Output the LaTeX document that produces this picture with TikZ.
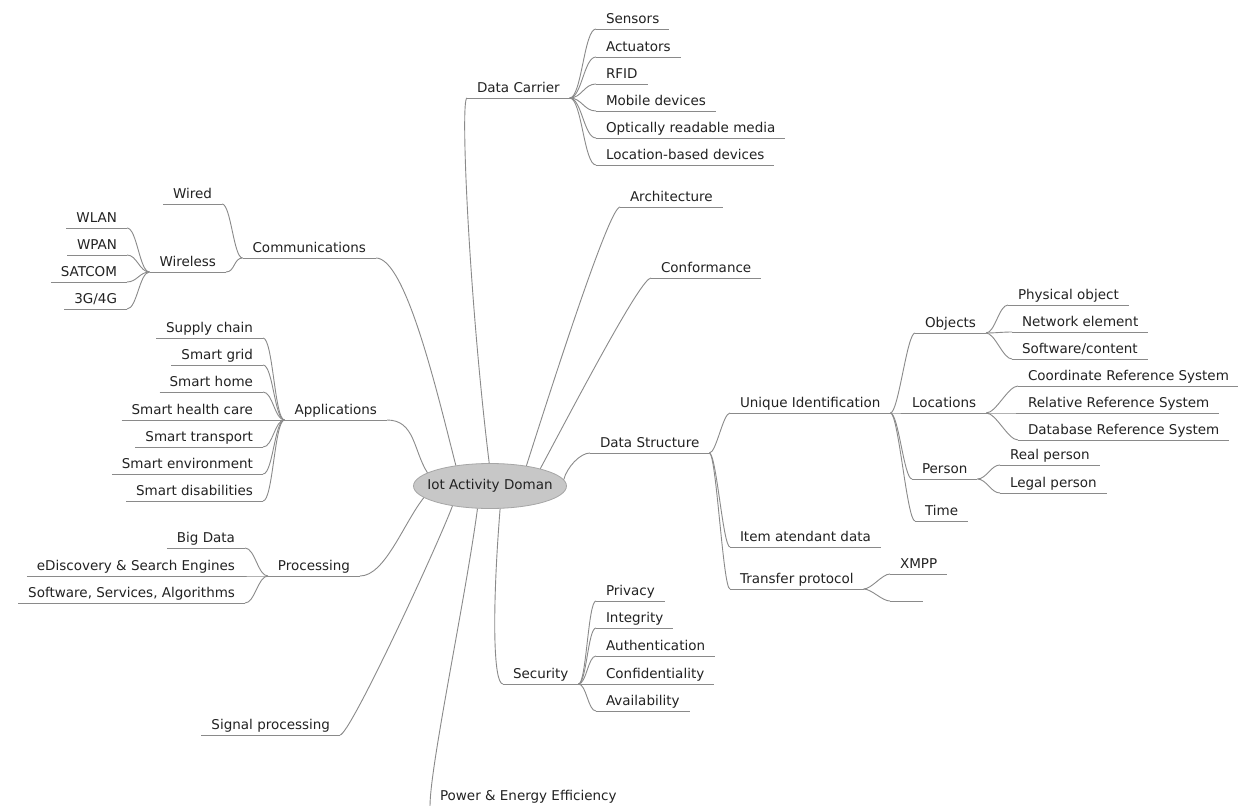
\documentclass[tikz,border=0pt]{standalone}
\usepackage{fontspec}
\setmainfont{DejaVu Sans}
\usetikzlibrary{shapes.geometric}
\definecolor{txt}{HTML}{222222}
\definecolor{lnc}{HTML}{8A8A8A}
\newcommand\brR[3][10]{\draw[ln] (#2.south east) .. controls +(#1,0) and +(-#1,0) .. (#3.south west);}
\newcommand\brL[3][10]{\draw[ln] (#2.south west) .. controls +(-#1,0) and +(#1,0) .. (#3.south east);}
\begin{document}
\begin{tikzpicture}[x=1pt,y=-1pt,
  ln/.style={draw=lnc, line width=0.9pt},
  lbl/.style={font=\fontsize{13.5}{16}\selectfont, text=txt, inner xsep=10pt, inner ysep=2.5pt,
    text height=10pt, text depth=3pt, outer sep=0pt,
    append after command={(\tikzlastnode.south west) edge[ln] (\tikzlastnode.south east)}},
  rl/.style={lbl, anchor=south west},
  ll/.style={lbl, anchor=south east},
  rootnode/.style={ellipse, fill=black!22, draw=black!35, line width=0.8pt, minimum width=153pt,
    minimum height=45pt, inner xsep=-9pt, inner ysep=0pt, font=\fontsize{13.5}{16}\selectfont, text=txt}]
\fill[white] (0,0) rectangle (1238,805);
\useasboundingbox (0,0) rectangle (1238,805);

\node[rootnode] (root) at (490,486) {Iot Activity Doman};

% Data Carrier
\node[rl] (dc) at (467,98) {Data Carrier};
\node[rl] (sen) at (596,29) {Sensors};
\node[rl] (act) at (596,57) {Actuators};
\node[rl] (rfid) at (596,84) {RFID};
\node[rl] (mob) at (596,111) {Mobile devices};
\node[rl] (opt) at (596,138) {Optically readable media};
\node[rl] (loc) at (596,165) {Location-based devices};
\foreach \c in {sen,act,rfid,mob,opt,loc}{\brR[12]{dc}{\c}}

\node[rl] (arch) at (620,207) {Architecture};
\node[rl] (conf) at (651,278) {Conformance};

% Data Structure
\node[rl] (ds) at (590,453) {Data Structure};
\node[rl] (ui) at (730,413) {Unique Identification};
\node[rl] (item) at (730,547) {Item atendant data};
\node[rl] (tp) at (730,589) {Transfer protocol};
\foreach \c in {ui,item,tp}{\brR[7]{ds}{\c}}
\node[rl] (xmpp) at (890,574) {XMPP};
\node[rl, minimum width=33pt] (empty) at (890,601) {};
\foreach \c in {xmpp,empty}{\brR[8]{tp}{\c}}

\node[rl] (obj) at (915,333) {Objects};
\node[rl] (locs) at (902,413) {Locations};
\node[rl] (pers) at (912,479) {Person};
\node[rl] (time) at (915,521) {Time};
\foreach \c in {obj,locs,pers,time}{\brR[8]{ui}{\c}}

\node[rl] (phys) at (1008,305) {Physical object};
\node[rl] (net) at (1012,332) {Network element};
\node[rl] (soft) at (1012,359) {Software/content};
\foreach \c in {phys,net,soft}{\brR[9]{obj}{\c}}

\node[rl] (crs) at (1018,386) {Coordinate Reference System};
\node[rl] (rrs) at (1018,413) {Relative Reference System};
\node[rl] (drs) at (1018,440) {Database Reference System};
\foreach \c in {crs,rrs,drs}{\brR[10]{locs}{\c}}

\node[rl] (real) at (1000,465) {Real person};
\node[rl] (legal) at (1000,493) {Legal person};
\foreach \c in {real,legal}{\brR[9]{pers}{\c}}

% Security
\node[rl] (sec) at (503,684) {Security};
\node[rl] (priv) at (596,601) {Privacy};
\node[rl] (integ) at (596,628) {Integrity};
\node[rl] (auth) at (596,656) {Authentication};
\node[rl] (conf2) at (596,684) {Confidentiality};
\node[rl] (avail) at (596,711) {Availability};
\foreach \c in {priv,integ,auth,conf2,avail}{\brR[8]{sec}{\c}}

\node[rl] (pow) at (430,806) {Power \& Energy Efficiency};

% Left side
\node[ll] (comm) at (376,258) {Communications};
\node[ll] (wired) at (222,204) {Wired};
\node[ll] (wless) at (226,272) {Wireless};
\foreach \c in {wired,wless}{\brL[9]{comm}{\c}}
\node[ll] (wlan) at (127,228) {WLAN};
\node[ll] (wpan) at (127,255) {WPAN};
\node[ll] (sat) at (127,282) {SATCOM};
\node[ll] (g34) at (127,309) {3G/4G};
\foreach \c in {wlan,wpan,sat,g34}{\brL[10]{wless}{\c}}

\node[ll] (app) at (387,420) {Applications};
\node[ll] (sup) at (263,338) {Supply chain};
\node[ll] (grid) at (263,365) {Smart grid};
\node[ll] (home) at (263,392) {Smart home};
\node[ll] (health) at (263,420) {Smart health care};
\node[ll] (trans) at (263,447) {Smart transport};
\node[ll] (env) at (263,474) {Smart environment};
\node[ll] (dis) at (263,501) {Smart disabilities};
\foreach \c in {sup,grid,home,health,trans,env,dis}{\brL[10]{app}{\c}}

\node[ll] (proc) at (360,576) {Processing};
\node[ll] (big) at (245,548) {Big Data};
\node[ll] (edis) at (245,576) {eDiscovery \& Search Engines};
\node[ll] (sw) at (245,603) {Software, Services, Algorithms};
\foreach \c in {big,edis,sw}{\brL[10]{proc}{\c}}

\node[ll] (sig) at (340,735) {Signal processing};

% Root connectors
\draw[ln] (app.south east) .. controls +(28,0) and +(-14,-22) .. (root.168);
\draw[ln] (comm.south east) .. controls +(30,0) and +(-18,-70) .. (root.149);
\draw[ln] (dc.south west) .. controls +(-7,0) and +(-20,-163) .. (root.92);
\draw[ln] (arch.south west) .. controls +(-10,0) and +(35,-110) .. (root.29);
\draw[ln] (conf.south west) .. controls +(-10,0) and +(40,-75) .. (root.19);
\draw[ln] (ds.south west) .. controls +(-10,0) and +(3,-12) .. (root.5);
\draw[ln] (proc.south east) .. controls +(25,0) and +(-20,25) .. (root.190);
\draw[ln] (sig.south east) .. controls +(10,0) and +(-15,40) .. (root.208);
\draw[ln] (pow.south west) .. controls +(0,-40) and +(-12,90) .. (root.241);
\draw[ln] (sec.south west) .. controls +(-10,0) and +(-8,100) .. (root.294);
\end{tikzpicture}
\end{document}
